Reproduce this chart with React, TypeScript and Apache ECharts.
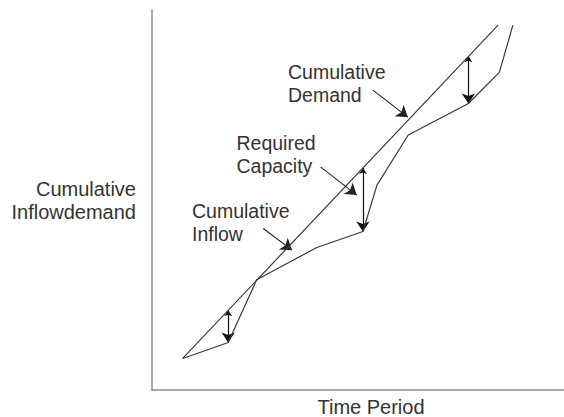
import React, { useEffect, useRef } from "react";
import * as echarts from "echarts";

// Inflow polyline (time, cumulative value)
const inflowTime = [7.45, 18.5, 25.4, 40.0, 51.2, 54.6, 62.2, 76.8, 84.3, 87.6];
const inflowValue = [8.3, 12.5, 29.0, 37.5, 41.7, 53.9, 67.1, 75.4, 83.6, 96.0];
// Demand straight line
const demandTime = [7.45, 84.0];
const demandValue = [8.3, 96.0];
// Required capacity gaps (double arrows)
const gapTime = [18.5, 51.2, 76.8];
const gapTop = [21.0, 58.4, 87.8];
const gapBottom = [12.5, 41.7, 75.4];
// Annotation pointers
const pointerFrom = [[53.6, 78.9], [40.9, 58.7], [27.0, 42.5]];
const pointerTo = [[62.1, 71.8], [49.7, 51.3], [34.0, 36.8]];
const annotationTexts = ["Cumulative\nDemand", "Required\nCapacity", "Cumulative\nInflow"];

const FONT = '"Liberation Sans", Arial, Helvetica, sans-serif';
const TXT = "#333";

export default function App() {
  const ref = useRef<HTMLDivElement>(null);
  useEffect(() => {
    if (!ref.current) return;
    const chart = echarts.init(ref.current, undefined, { renderer: "svg" });
    const lineColor = "#3a3a3a";
    const axisCommon = {
      type: "value" as const,
      min: 0,
      max: 100,
      axisLine: { show: true, lineStyle: { color: "#8c8c8c", width: 1.5 } },
      axisTick: { show: false },
      axisLabel: { show: false },
      splitLine: { show: false },
    };
    const annPos = [
      [288, 60],
      [236.5, 131],
      [192, 199],
    ];
    chart.setOption({
      animation: false,
      grid: { left: 152, top: 10, right: 0, bottom: 27 },
      xAxis: axisCommon,
      yAxis: axisCommon,
      series: [
        {
          type: "line",
          data: demandTime.map((t, i) => [t, demandValue[i]]),
          symbol: "none",
          lineStyle: { color: lineColor, width: 1.2 },
        },
        {
          type: "line",
          data: inflowTime.map((t, i) => [t, inflowValue[i]]),
          symbol: "none",
          lineStyle: { color: lineColor, width: 1.2 },
        },
        {
          type: "lines",
          coordinateSystem: "cartesian2d",
          symbol: ["arrow", "arrow"],
          symbolSize: [6, 10],
          lineStyle: { color: "#111", width: 1.2, opacity: 1 },
          data: gapTime.map((t, i) => ({ coords: [[t, gapTop[i]], [t, gapBottom[i]]] })),
        },
        {
          type: "lines",
          coordinateSystem: "cartesian2d",
          symbol: ["none", "arrow"],
          symbolSize: [7, 11],
          lineStyle: { color: "#222", width: 1.1, opacity: 1 },
          data: pointerFrom.map((p, i) => ({ coords: [p, pointerTo[i]] })),
        },
      ],
      graphic: [
        ...annotationTexts.map((t, i) => ({
          type: "text",
          x: annPos[i][0],
          y: annPos[i][1],
          style: {
            text: t,
            font: `19.5px ${FONT}`,
            fill: TXT,
            lineHeight: 23.5,
            textAlign: "left",
            textVerticalAlign: "top",
          },
        })),
        {
          type: "text",
          x: 136,
          y: 177,
          style: {
            text: "Cumulative\nInflowdemand",
            font: `20px ${FONT}`,
            fill: TXT,
            lineHeight: 23.5,
            textAlign: "right",
            textVerticalAlign: "top",
          },
        },
        {
          type: "text",
          x: 371,
          y: 407,
          style: {
            text: "Time Period",
            font: `20px ${FONT}`,
            fill: TXT,
            textAlign: "center",
            textVerticalAlign: "middle",
          },
        },
      ],
    });
    return () => chart.dispose();
  }, []);
  return (
    <div
      ref={ref}
      style={{ position: "fixed", left: 0, top: 0, width: 564, height: 417, background: "#fff" }}
    />
  );
}
